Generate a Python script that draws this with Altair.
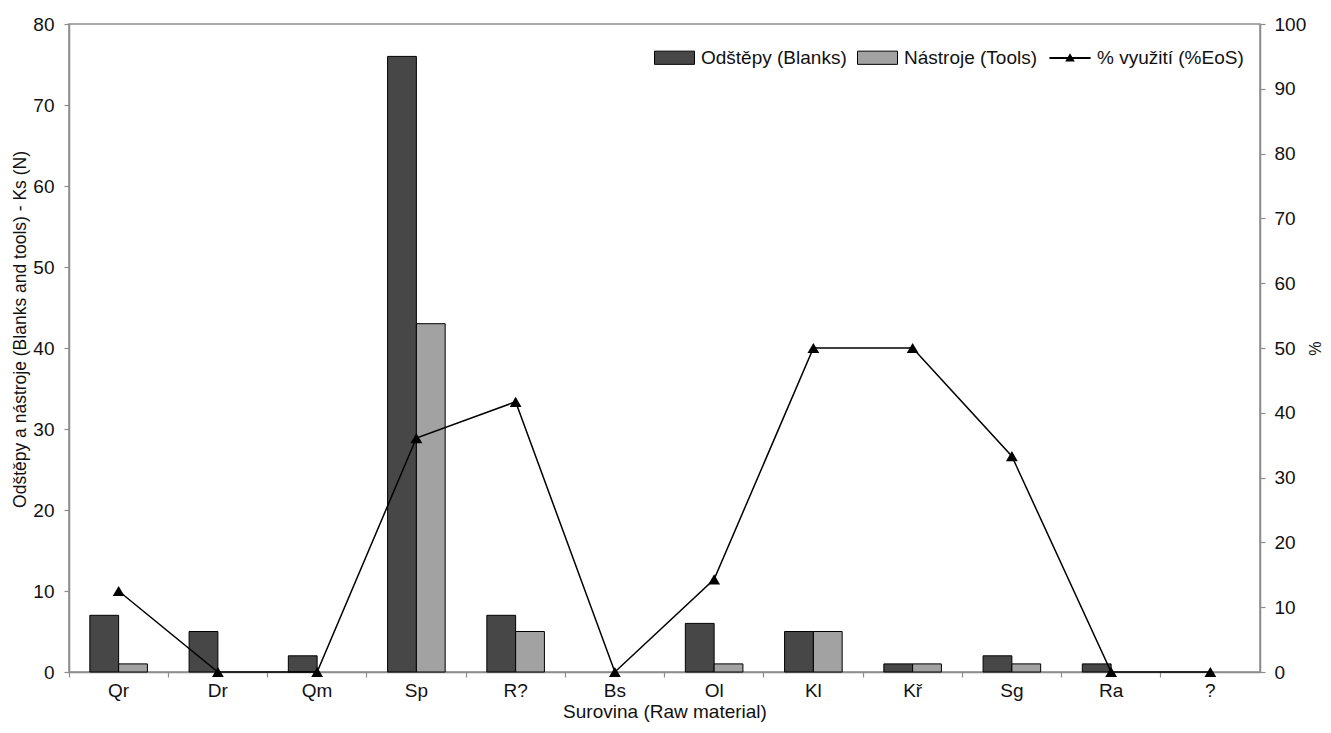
import altair as alt
import pandas as pd

categories = ["Qr", "Dr", "Qm", "Sp", "R?", "Bs", "Ol", "Kl", "Kř", "Sg", "Ra", "?"]
blanks = [7, 5, 2, 76, 7, 0, 6, 5, 1, 2, 1, 0]
tools = [1, 0, 0, 43, 5, 0, 1, 5, 1, 1, 0, 0]
eos_pct = [12.5, 0, 0, 36.1, 41.7, 0, 14.3, 50, 50, 33.3, 0, 0]

S_BL = "Odštěpy (Blanks)"
S_TO = "Nástroje (Tools)"
S_EO = "% využití (%EoS)"
bar_series = [S_BL, S_TO]
bar_colors = ["#474747", "#a2a2a2"]

rows = []
for c, b, t in zip(categories, blanks, tools):
    rows.append({"cat": c, "series": S_BL, "value": b})
    rows.append({"cat": c, "series": S_TO, "value": t})
bars_df = pd.DataFrame(rows)
line_df = pd.DataFrame({"cat": categories, "pct": eos_pct, "lab": [S_EO] * len(categories)})

FONT = "Liberation Sans"
FS = 19
AX = "#8c8c8c"

RECT = "M-1,-0.33H1V0.33H-1Z"
LINESYM = ("M-1,-0.02H1V0.02H-1Z "
           "M-0.19,0.15L0,-0.18L0.19,0.15Z "
           "M-0.11,0.1L0,-0.08L0.11,0.1Z "
           "M-0.05,0.06L0,0L0.05,0.06Z")


def build(band_pos):
    xscale = alt.Scale(domain=categories, paddingInner=0.42, paddingOuter=0.21)
    ax_kw = dict(title="Surovina (Raw material)", labelAngle=0, tickSize=5,
                 labelPadding=4, titlePadding=2)
    if band_pos is not None:
        ax_kw["bandPosition"] = band_pos
    xaxis = alt.Axis(**ax_kw)
    common_leg = dict(orient="none", legendY=13, direction="horizontal", title=None,
                      symbolSize=1600, labelFontSize=FS, labelFont=FONT, labelColor="#111",
                      columnPadding=8, labelOffset=6, symbolOpacity=1,
                      symbolStrokeColor="black")
    bars = alt.Chart(bars_df).transform_filter("datum.value > 0").mark_bar(
        stroke="black", strokeWidth=1
    ).encode(
        x=alt.X("cat:N", scale=xscale, axis=xaxis),
        xOffset=alt.XOffset("series:N", scale=alt.Scale(domain=bar_series)),
        y=alt.Y("value:Q", scale=alt.Scale(domain=[0, 80], nice=False),
                axis=alt.Axis(title="Odštěpy a nástroje (Blanks and tools) - Ks (N)",
                              values=list(range(0, 81, 10)), tickSize=5,
                              labelPadding=10, titlePadding=3, titleFontSize=17.5,
                              titleY=305)),
        color=alt.Color("series:N", scale=alt.Scale(domain=bar_series, range=bar_colors),
                        legend=alt.Legend(legendX=585, symbolType=RECT,
                                          symbolStrokeWidth=1, **common_leg)),
    )
    line = alt.Chart(line_df).mark_line(
        strokeWidth=1.5,
        point=alt.OverlayMarkDef(shape="triangle-up", size=140, filled=True, opacity=1)
    ).encode(
        x=alt.X("cat:N", scale=xscale, axis=xaxis),
        y=alt.Y("pct:Q", scale=alt.Scale(domain=[0, 100], nice=False),
                axis=alt.Axis(orient="right", title="%", values=list(range(0, 101, 10)),
                              tickSize=5, labelPadding=9, titlePadding=0,
                              titleFontSize=16)),
        color=alt.Color("lab:N", scale=alt.Scale(domain=[S_EO], range=["#000000"]),
                        legend=alt.Legend(legendX=980, symbolType=LINESYM,
                                          symbolFillColor="black", symbolStrokeWidth=1.2,
                                          **common_leg)),
    )
    chart = alt.layer(bars, line).resolve_scale(
        y="independent", color="independent"
    ).properties(
        width=1191, height=648,
        autosize=alt.AutoSizeParams(type="none"),
        padding={"left": 61, "top": 16, "right": 63, "bottom": 52},
    ).configure(font=FONT).configure_view(
        stroke=AX, strokeWidth=1.5
    ).configure_axis(
        labelFont=FONT, titleFont=FONT, labelFontSize=FS, titleFontSize=FS,
        labelColor="#111", titleColor="#111", titleFontWeight="normal",
        domainColor=AX, tickColor=AX, domainWidth=1.5, tickWidth=1.2, grid=False,
    )
    return chart


try:
    build(-0.362).save("out.html", embed_options={"renderer": "svg", "actions": False})
except Exception:
    build(None).save("out.html", embed_options={"renderer": "svg", "actions": False})
